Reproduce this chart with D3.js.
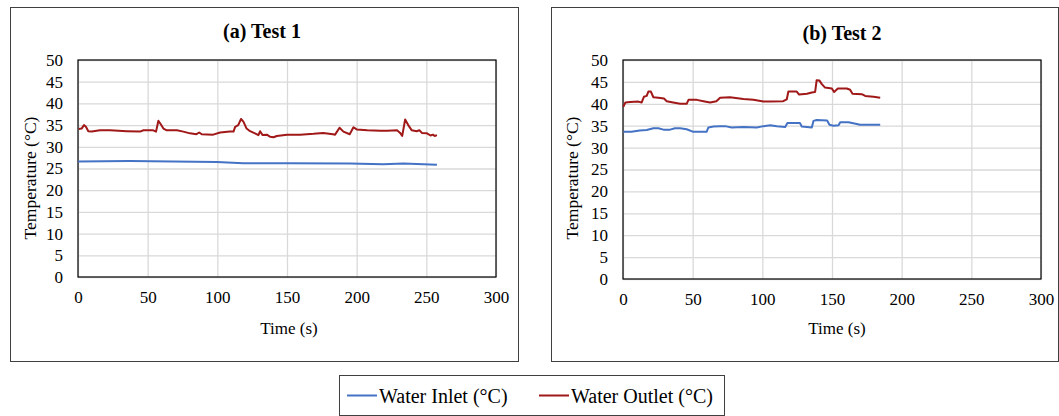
<!DOCTYPE html>
<html>
<head>
<meta charset="utf-8">
<script src="https://cdn.jsdelivr.net/npm/d3@7"></script>
<style>
  html, body { margin: 0; padding: 0; background: #fff; }
  svg { display: block; font-family: "Liberation Serif", "Times New Roman", serif; }
  .tick text { font-family: "Liberation Serif", "Times New Roman", serif; }
</style>
</head>
<body>
<svg id="chart" width="1059" height="416"></svg>
<script>
// Test 1 readings: time (s) and temperature (°C)
const test1InletTime  = [0, 37, 99.6, 118.7, 150, 195, 219, 233.6, 257.6];
const test1InletTemp  = [26.6, 26.7, 26.5, 26.2, 26.2, 26.15, 26.0, 26.15, 25.85];

const test1OutletTime = [0.5, 2.6, 4.3, 5.7, 7.4, 9.8, 15.8, 23, 35, 44.5, 47, 54, 56, 57.7, 59.4, 61.3, 63.7, 71, 75.6, 80.4, 85, 87, 88.8, 97, 102, 109, 111.6, 112.8, 115, 117, 118.7, 121, 123.5, 127, 129.5, 130.7, 132.4, 135.5, 138, 140.3, 142.7, 150, 159.4, 169, 176, 183, 184.5, 187.7, 190.5, 195, 197.7, 200, 207.6, 217, 222, 229, 231.2, 232.7, 234.8, 237, 239.6, 243, 245, 246.8, 250.5, 253, 254.7, 256, 257.6];
const test1OutletTemp = [34.1, 34.2, 35.0, 34.6, 33.6, 33.5, 33.8, 33.8, 33.6, 33.5, 33.8, 33.8, 33.5, 36.0, 35.2, 34.2, 33.8, 33.8, 33.5, 33.1, 32.9, 33.3, 32.9, 32.8, 33.3, 33.5, 33.5, 34.6, 35.0, 36.4, 35.8, 34.2, 33.6, 33.1, 32.7, 33.6, 32.7, 32.8, 32.3, 32.2, 32.5, 32.8, 32.8, 33.0, 33.2, 32.9, 32.8, 34.4, 33.5, 32.9, 34.5, 34.0, 33.8, 33.7, 33.7, 33.8, 33.2, 32.5, 36.3, 35.0, 33.8, 33.6, 33.8, 33.2, 33.1, 32.6, 32.8, 32.5, 32.7];

// Test 2 readings
const test2InletTime  = [0.2, 6, 12, 17, 21.8, 25.4, 29, 33.8, 37.3, 41, 45.7, 50.5, 55.3, 60, 61.3, 64.9, 69.7, 73.3, 78, 86.4, 96, 100.8, 105.6, 110.4, 116.4, 118, 127, 128.3, 135.5, 136.7, 139, 146.5, 148.2, 151, 154.7, 155.9, 161.8, 167.8, 170, 184.6];
const test2InletTemp  = [33.6, 33.6, 33.9, 34.0, 34.4, 34.4, 34.1, 34.1, 34.4, 34.4, 34.2, 33.6, 33.6, 33.6, 34.6, 34.8, 34.9, 34.9, 34.6, 34.7, 34.6, 34.9, 35.1, 34.9, 34.7, 35.6, 35.6, 34.8, 34.6, 36.1, 36.3, 36.2, 35.2, 35.0, 35.1, 35.8, 35.8, 35.4, 35.2, 35.2];

const test2OutletTime = [0.2, 1.7, 5, 11, 13.4, 15, 17, 18.2, 20, 21.8, 25.4, 29.4, 31.4, 36, 41, 45.7, 47, 53, 57.7, 62.5, 67, 69.7, 76.8, 86.4, 93.6, 100.8, 105.6, 115, 117.5, 118.7, 124.7, 126.4, 132, 135.5, 137.9, 139, 141, 142.7, 145, 149.9, 151.5, 154.2, 160.6, 163, 164.7, 171.4, 173.8, 179.8, 184.6];
const test2OutletTemp = [39.3, 40.3, 40.4, 40.5, 40.3, 41.6, 41.8, 42.8, 42.8, 41.5, 41.4, 41.2, 40.6, 40.3, 40.0, 40.0, 40.9, 40.9, 40.6, 40.3, 40.6, 41.4, 41.5, 41.1, 40.9, 40.5, 40.5, 40.6, 41.0, 42.8, 42.8, 42.1, 42.3, 42.6, 42.7, 45.4, 45.3, 44.5, 43.7, 43.5, 42.7, 43.5, 43.5, 43.2, 42.3, 42.2, 41.8, 41.6, 41.4];

const xTicks = [0, 50, 100, 150, 200, 250, 300];
const yTicks = [0, 5, 10, 15, 20, 25, 30, 35, 40, 45, 50];
const seriesNames = ["Water Inlet (°C)", "Water Outlet (°C)"];
const seriesColors = ["#4472C4", "#A01818"];

const svg = d3.select("#chart");

const panels = [
  { title: "(a) Test 1", box: [10, 7, 508, 354], plot: [78, 60, 496, 277],
    titleX: 262, titleY: 38, xTitleX: 289, yTitleX: 36,
    series: [[test1InletTime, test1InletTemp], [test1OutletTime, test1OutletTemp]] },
  { title: "(b) Test 2", box: [551, 7, 507, 354], plot: [623, 60, 1041, 279],
    titleX: 842, titleY: 40, xTitleX: 837, yTitleX: 578,
    series: [[test2InletTime, test2InletTemp], [test2OutletTime, test2OutletTemp]] }
];

panels.forEach(p => {
  const g = svg.append("g");
  g.append("rect")
    .attr("x", p.box[0] + 0.5).attr("y", p.box[1] + 0.5)
    .attr("width", p.box[2]).attr("height", p.box[3])
    .attr("fill", "#fff").attr("stroke", "#404040").attr("stroke-width", 1);

  const [x0, y0, x1, y1] = p.plot;
  const x = d3.scaleLinear().domain([0, 300]).range([x0, x1]);
  const y = d3.scaleLinear().domain([0, 50]).range([y1, y0]);

  // gridlines
  g.append("g").attr("transform", `translate(0,${y1})`)
    .call(d3.axisBottom(x).tickValues(xTicks).tickSize(-(y1 - y0)).tickFormat(""))
    .call(s => s.select(".domain").remove())
    .call(s => s.selectAll("line").attr("stroke", "#d9d9d9").attr("stroke-width", 1.3));
  g.append("g").attr("transform", `translate(${x0},0)`)
    .call(d3.axisLeft(y).tickValues(yTicks).tickSize(-(x1 - x0)).tickFormat(""))
    .call(s => s.select(".domain").remove())
    .call(s => s.selectAll("line").attr("stroke", "#d9d9d9").attr("stroke-width", 1.3));

  // tick labels
  g.append("g").attr("transform", `translate(0,${y1})`)
    .call(d3.axisBottom(x).tickValues(xTicks).tickSize(0).tickPadding(14))
    .attr("font-family", null).attr("font-size", 17)
    .call(s => s.select(".domain").remove())
    .call(s => s.selectAll("text").attr("fill", "#000"));
  g.append("g").attr("transform", `translate(${x0},0)`)
    .call(d3.axisLeft(y).tickValues(yTicks).tickSize(0).tickPadding(15))
    .attr("font-family", null).attr("font-size", 17)
    .call(s => s.select(".domain").remove())
    .call(s => s.selectAll("text").attr("fill", "#000"));

  // plot frame
  g.append("rect")
    .attr("x", x0).attr("y", y0).attr("width", x1 - x0).attr("height", y1 - y0)
    .attr("fill", "none").attr("stroke", "#000").attr("stroke-width", 1.2);

  const line = d3.line().x(d => x(d[0])).y(d => y(d[1]));
  p.series.forEach((s, i) => {
    const pts = s[0].map((t, k) => [t, s[1][k]]);
    g.append("path").datum(pts)
      .attr("d", line).attr("fill", "none")
      .attr("stroke", seriesColors[i]).attr("stroke-width", 2)
      .attr("stroke-linejoin", "round");
  });

  g.append("text").attr("x", p.titleX).attr("y", p.titleY)
    .attr("text-anchor", "middle").attr("font-size", 20).attr("font-weight", "bold")
    .text(p.title);
  g.append("text").attr("x", p.xTitleX).attr("y", 334)
    .attr("text-anchor", "middle").attr("font-size", 17).text("Time (s)");
  g.append("text")
    .attr("transform", `translate(${p.yTitleX},178) rotate(-90)`)
    .attr("text-anchor", "middle").attr("font-size", 17.5).text("Temperature (°C)");
});

// legend
const lg = svg.append("g");
lg.append("rect").attr("x", 339.5).attr("y", 375.5).attr("width", 385).attr("height", 40)
  .attr("fill", "#fff").attr("stroke", "#404040").attr("stroke-width", 1);
const legendX = [347, 539];
seriesNames.forEach((name, i) => {
  lg.append("line").attr("x1", legendX[i]).attr("x2", legendX[i] + 30)
    .attr("y1", 395.5).attr("y2", 395.5)
    .attr("stroke", seriesColors[i]).attr("stroke-width", 2);
  lg.append("text").attr("x", legendX[i] + 32).attr("y", 403)
    .attr("font-size", 20).text(name);
});
</script>
</body>
</html>
